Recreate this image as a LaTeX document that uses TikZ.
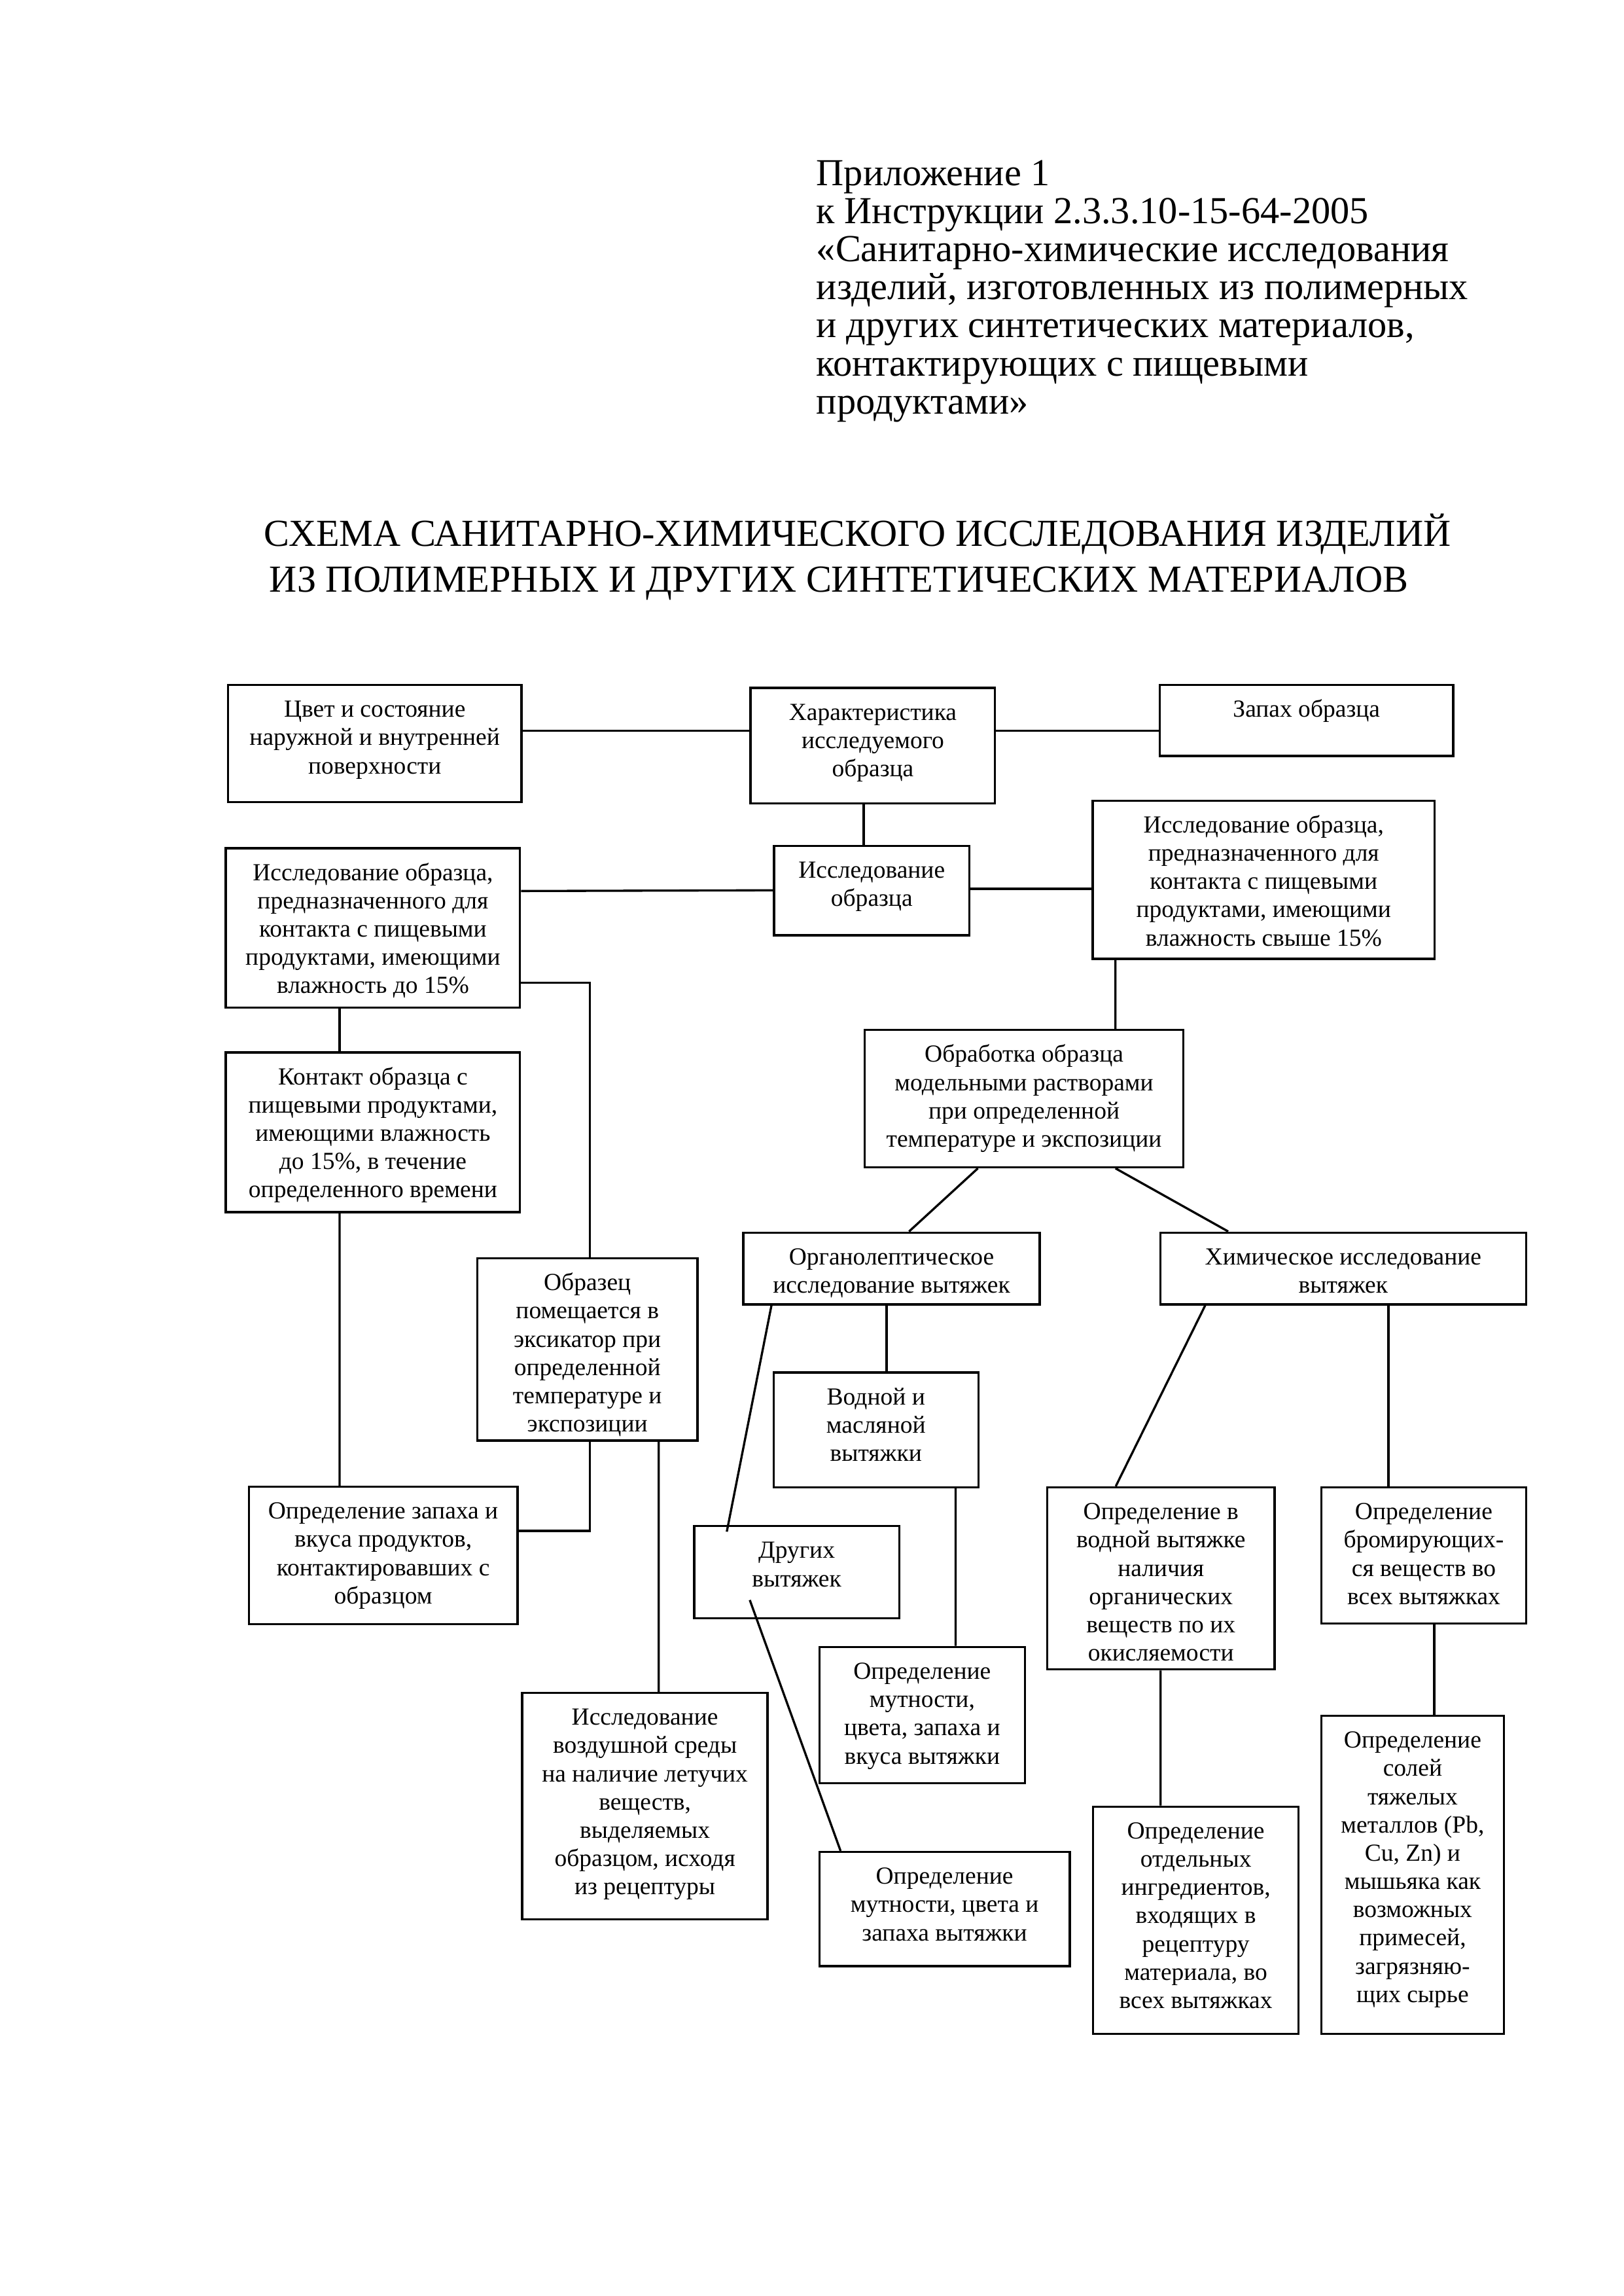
\documentclass[tikz,border=0pt]{standalone}
\usepackage{fontspec}
\setmainfont{Liberation Serif}
\usetikzlibrary{calc}
\newlength\unitpx
\setlength\unitpx{0.5368pt}
\newcommand\bx[3]{\parbox[c][#2\unitpx][t]{#1\unitpx}{\centering\fontsize{9}{10.36}\selectfont\rule{0pt}{11.8pt}#3\par}}
\begin{document}
\begin{tikzpicture}[x=0.5368pt,y=-0.5368pt,line width=0.8pt,
  box/.style={draw,inner sep=0pt,anchor=north west},
  hdr/.style={anchor=base west,inner sep=0pt,font=\fontsize{14}{14}\selectfont},
  ttl/.style={anchor=base west,inner sep=0pt,font=\fontsize{14}{14}\selectfont}]
\fill[white] (0,0) rectangle (1109,1568);
\useasboundingbox (0,0) rectangle (1109,1568);
% header
\node[hdr] (h1) at (557,126.6) {Приложение 1};
\node[hdr] (h2) at (557,152.6) {к Инструкции 2.3.3.10-15-64-2005};
\node[hdr] (h3) at (557,178.6) {«Санитарно-химические исследования};
\node[hdr] (h4) at (557,204.6) {изделий, изготовленных из полимерных};
\node[hdr] (h5) at (557,230.6) {и других синтетических материалов,};
\node[hdr] (h6) at (557,256.6) {контактирующих с пищевыми};
\node[hdr] (h7) at (557,282.6) {продуктами»};
% title
\node[ttl] (t1) at (179.7,373.2) {СХЕМА САНИТАРНО-ХИМИЧЕСКОГО ИССЛЕДОВАНИЯ ИЗДЕЛИЙ};
\node[ttl] (t2) at (183.4,404.2) {ИЗ ПОЛИМЕРНЫХ И ДРУГИХ СИНТЕТИЧЕСКИХ МАТЕРИАЛОВ};
% boxes
\node[box] (tsvet) at (155,467) {\bx{200.5}{80}{Цвет и состояние\\наружной и внутренней\\поверхности}};
\node[box] (char) at (512,469) {\bx{167}{79}{Характеристика\\исследуемого\\образца}};
\node[box] (zapakh) at (791.5,467) {\bx{200.5}{48.5}{Запах образца}};
\node[box] (issl) at (528,577) {\bx{133.5}{61}{Исследование\\образца}};
\node[box] (left15) at (153.5,578.5) {\bx{201}{109}{Исследование образца,\\предназначенного для\\контакта с пищевыми\\продуктами, имеющими\\влажность до 15\%}};
\node[box] (right15) at (745.7,546) {\bx{233.6}{108}{Исследование образца,\\предназначенного для\\контакта с пищевыми\\продуктами, имеющими\\влажность свыше 15\%}};
\node[box] (kontakt) at (153.5,718) {\bx{201}{109}{Контакт образца с\\пищевыми продуктами,\\имеющими влажность\\до 15\%, в течение\\определенного времени}};
\node[box] (obr) at (325.3,858.6) {\bx{150.4}{124.4}{Образец\\помещается в\\эксикатор при\\определенной\\температуре и\\экспозиции}};
\node[box] (zapvk) at (169.2,1014.6) {\bx{183.6}{93.8}{Определение запаха и\\вкуса продуктов,\\контактировавших с\\образцом}};
\node[box] (vozd) at (356,1155.4) {\bx{167.6}{154.6}{Исследование\\воздушной среды\\на наличие летучих\\веществ,\\выделяемых\\образцом, исходя\\из рецептуры}};
\node[box] (obrab) at (590,702.7) {\bx{217.6}{93.7}{Обработка образца\\модельными растворами\\при определенной\\температуре и экспозиции}};
\node[box] (org) at (507,841) {\bx{202.5}{49}{Органолептическое\\исследование вытяжек}};
\node[box] (chem) at (792,841) {\bx{249.7}{49}{Химическое исследование\\вытяжек}};
\node[box] (vodn) at (527.7,936.6) {\bx{139.9}{78.4}{Водной и\\масляной\\вытяжки}};
\node[box] (drug) at (473.5,1041.5) {\bx{140}{63}{Других\\вытяжек}};
\node[box] (mutn1) at (559,1124) {\bx{140.4}{93}{Определение\\мутности,\\цвета, запаха и\\вкуса вытяжки}};
\node[box] (mutn2) at (559,1264) {\bx{171}{78}{Определение\\мутности, цвета и\\запаха вытяжки}};
\node[box] (opredv) at (714.6,1015) {\bx{155.4}{124.4}{Определение в\\водной вытяжке\\наличия\\органических\\веществ по их\\окисляемости}};
\node[box] (brom) at (902,1015) {\bx{139.7}{93}{Определение\\бромирующих-\\ся веществ во\\всех вытяжках}};
\node[box] (ingr) at (746,1233) {\bx{140.3}{155.3}{Определение\\отдельных\\ингредиентов,\\входящих в\\рецептуру\\материала, во\\всех вытяжках}};
\node[box] (sol) at (902,1171) {\bx{124.5}{217.3}{Определение\\солей\\тяжелых\\металлов (Pb,\\Cu, Zn) и\\мышьяка как\\возможных\\примесей,\\загрязняю-\\щих сырье}};
% connectors
\draw ($(tsvet.north east)+(0,32)$) -- ($(char.north west)+(0,30)$);
\draw ($(char.north east)+(0,30)$) -- ($(zapakh.north west)+(0,32)$);
\draw ($(char.south west)+(78,0)$) -- ($(issl.north west)+(62,0)$);
\draw ($(left15.north east)+(0,30)$) -- ($(issl.north west)+(0,31)$);
\draw ($(issl.north east)+(0,30)$) -- ($(right15.north west)+(0,61)$);
\draw ($(left15.south west)+(78.5,0)$) -- ($(kontakt.north west)+(78.5,0)$);
\draw ($(left15.north east)+(0,92.5)$) -| ($(obr.north west)+(77.7,0)$);
\draw ($(kontakt.south west)+(78.5,0)$) -- ($(zapvk.north west)+(62.8,0)$);
\draw ($(obr.south west)+(77.7,0)$) |- ($(zapvk.north east)+(0,30.8)$);
\draw ($(obr.south west)+(124.7,0)$) -- ($(vozd.north west)+(94,0)$);
\draw ($(right15.south west)+(16.3,0)$) -- ($(obrab.north west)+(172,0)$);
\draw ($(obrab.south west)+(78,0)$) -- ($(org.north west)+(114,0)$);
\draw ($(obrab.south west)+(172,0)$) -- ($(chem.north west)+(47,0)$);
\draw ($(org.south west)+(20,0)$) -- ($(drug.north west)+(23,4.5)$);
\draw ($(org.south west)+(98.7,0)$) -- ($(vodn.north west)+(78,0)$);
\draw ($(drug.north west)+(38.7,51.2)$) -- ($(mutn2.north west)+(15.2,0)$);
\draw ($(vodn.south west)+(125.1,0)$) -- ($(mutn1.north west)+(93.8,0)$);
\draw ($(chem.south west)+(31.3,0)$) -- ($(opredv.north west)+(47.6,0)$);
\draw ($(chem.south west)+(156.5,0)$) -- ($(brom.north west)+(46.5,0)$);
\draw ($(opredv.south west)+(78.2,0)$) -- ($(ingr.north west)+(46.8,0)$);
\draw ($(brom.south west)+(77.8,0)$) -- ($(sol.north west)+(77.8,0)$);
\end{tikzpicture}
\end{document}
